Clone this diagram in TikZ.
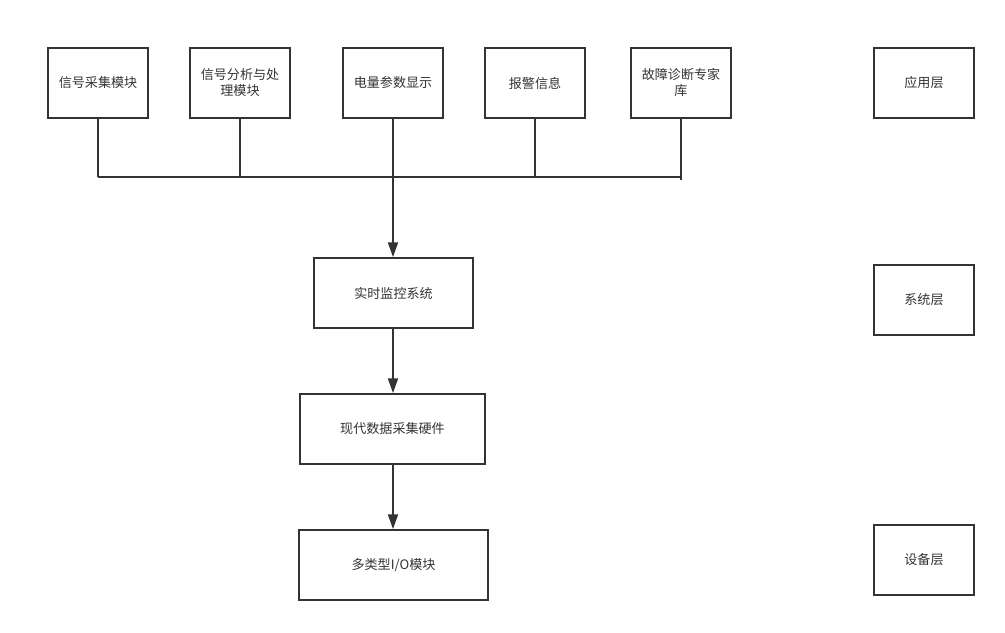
\documentclass[tikz,border=0pt]{standalone}
\usepackage{fontspec}
\setmainfont{Noto Sans CJK SC}
\usetikzlibrary{arrows.meta}
\definecolor{ln}{HTML}{333333}
\tikzset{
  box/.style={draw=ln, line width=1.4pt, fill=white, text=ln, font=\fontsize{9.8}{12}\selectfont, align=center, inner sep=0pt, minimum height=52.5pt},
  conn/.style={draw=ln, line width=1.4pt},
  arr/.style={conn, -{Triangle[length=11pt,width=7.5pt]}}
}
\begin{document}
\begin{tikzpicture}[x=0.75pt,y=-0.75pt]
\useasboundingbox (0,0) rectangle (1005,632);
\node[box, minimum width=75pt] (a1) at (98,83) {信号采集模块};
\node[box, minimum width=75pt, text width=62pt] (a2) at (240,83) {信号分析与处\\理模块};
\node[box, minimum width=75pt] (a3) at (393,83) {电量参数显示};
\node[box, minimum width=75pt] (a4) at (535,83) {报警信息};
\node[box, minimum width=75pt, text width=62pt] (a5) at (681,83) {故障诊断专家\\库};
\node[box, minimum width=75pt] (l1) at (924,83) {应用层};
\node[box, minimum width=119.25pt] (s) at (393.5,293) {实时监控系统};
\node[box, minimum width=75pt] (l2) at (924,300) {系统层};
\node[box, minimum width=138.75pt] (h) at (392.5,429) {现代数据采集硬件};
\node[box, minimum width=141.75pt] (io) at (393.5,565) {多类型I/O模块};
\node[box, minimum width=75pt] (l3) at (924,560) {设备层};
\coordinate (b1) at (98,177);
\coordinate (b2) at (240,178);
\coordinate (b3) at (393,177);
\coordinate (b4) at (535,178);
\coordinate (b5) at (681,177);
\draw[conn] (a1.south) -- (b1);
\draw[conn] (a2.south) -- (b2);
\draw[conn] (a3.south) -- (b3);
\draw[conn] (a4.south) -- (b4);
\draw[conn] (a5.south) -- (681,180);
\draw[conn] (b1) -- (b5);
\draw[arr] (b3) -- (s.north -| b3);
\draw[arr] (s.south -| b3) -- (h.north -| b3);
\draw[arr] (h.south -| b3) -- (io.north -| b3);
\end{tikzpicture}
\end{document}
